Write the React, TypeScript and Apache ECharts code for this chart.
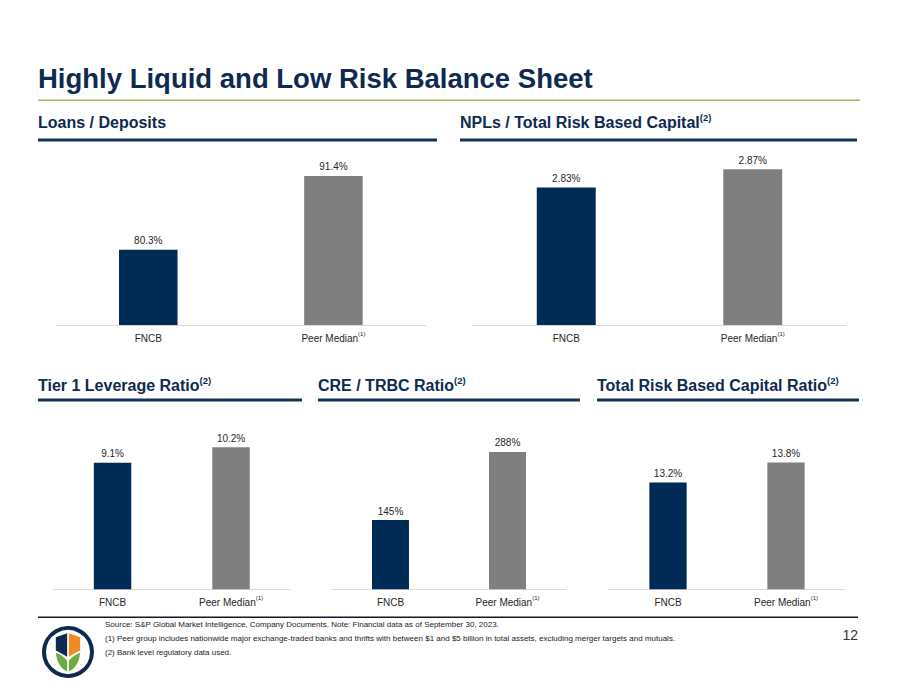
import React, { useEffect, useRef } from 'react';
import * as echarts from 'echarts';

// ---------- data ----------
const categories = ['FNCB', 'Peer Median'];
const loansDeposits = [80.3, 91.4];
const nplsToTrbc = [2.83, 2.87];
const tier1Leverage = [9.1, 10.2];
const creToTrbc = [145, 288];
const totalRbcRatio = [13.2, 13.8];

const pageTitle = 'Highly Liquid and Low Risk Balance Sheet';
const panelTitles = [
  'Loans / Deposits',
  'NPLs / Total Risk Based Capital',
  'Tier 1 Leverage Ratio',
  'CRE / TRBC Ratio',
  'Total Risk Based Capital Ratio',
];
const panelNotes = ['', '(2)', '(2)', '(2)', '(2)'];
const peerNote = '(1)';
const footnotes = [
  'Source: S&P Global Market Intelligence, Company Documents. Note: Financial data as of September 30, 2023.',
  '(1) Peer group includes nationwide major exchange-traded banks and thrifts with between $1 and $5 billion in total assets, excluding merger targets and mutuals.',
  '(2) Bank level regulatory data used.',
];
const pageNumber = '12';

// ---------- style ----------
const NAVY = '#002B54';
const GRAY = '#7F7F7F';
const TITLE = '#0E2A50';
const GREEN = '#9BBB59';
const FONT = "'Liberation Sans', Arial, sans-serif";

// logo shapes (0..100 local box)
let registered = false;
function registerLogo() {
  if (registered) return;
  registered = true;
  echarts.graphic.registerShape('shieldNavy', echarts.graphic.extendPath('M8,12 L47,2 L47,62 Q27,53 8,46 Z', {}) as any);
  echarts.graphic.registerShape('shieldOrange', echarts.graphic.extendPath('M53,2 L92,12 L92,46 Q73,53 53,62 Z', {}) as any);
  echarts.graphic.registerShape('leafLeft', echarts.graphic.extendPath('M8,52 Q30,58 47,72 L47,100 Q12,88 8,52 Z', {}) as any);
  echarts.graphic.registerShape('leafRight', echarts.graphic.extendPath('M92,52 Q70,58 53,72 L53,100 Q88,88 92,52 Z', {}) as any);
}

type Panel = {
  values: number[];
  decimals: number;
  min: number;
  max: number;
  grid: { left: number; top: number; width: number; height: number };
};

const panels: Panel[] = [
  { values: loansDeposits, decimals: 1, min: 69, max: 95, grid: { left: 55.7, top: 152, width: 370.3, height: 173 } },
  { values: nplsToTrbc, decimals: 2, min: 2.53, max: 2.9, grid: { left: 473, top: 155.5, width: 373, height: 169.5 } },
  { values: tier1Leverage, decimals: 1, min: 0, max: 12, grid: { left: 53.3, top: 422.3, width: 237, height: 167 } },
  { values: creToTrbc, decimals: 0, min: 0, max: 350, grid: { left: 332, top: 422.3, width: 234, height: 167 } },
  { values: totalRbcRatio, decimals: 1, min: 10, max: 15, grid: { left: 609, top: 422.3, width: 236, height: 167 } },
];

const headers = [
  { x: 38, y: 122, x2: 437, ly: 140 },
  { x: 460, y: 122, x2: 857, ly: 140 },
  { x: 38, y: 385, x2: 302, ly: 400 },
  { x: 318, y: 385, x2: 580, ly: 400 },
  { x: 597, y: 385, x2: 859, ly: 400 },
];

export default function App() {
  const ref = useRef<HTMLDivElement>(null);
  useEffect(() => {
    if (!ref.current) return;
    registerLogo();
    const chart = echarts.init(ref.current, undefined, { renderer: 'svg' });

    const graphic: any[] = [];
    graphic.push({
      type: 'text', x: 38, y: 78,
      style: { text: pageTitle, fill: TITLE, fontSize: 27.5, fontWeight: 'bold', fontFamily: FONT, verticalAlign: 'middle' },
    });
    graphic.push({ type: 'rect', shape: { x: 38, y: 99.5, width: 822, height: 1.5 }, style: { fill: GREEN } });

    headers.forEach((h, i) => {
      graphic.push({
        type: 'text', x: h.x, y: h.y,
        style: {
          text: panelTitles[i] + (panelNotes[i] ? '{s|' + panelNotes[i] + '}' : ''),
          fill: TITLE, fontSize: 16, fontWeight: 'bold', fontFamily: FONT, verticalAlign: 'middle', lineHeight: 19,
          rich: { s: { fontSize: 9.5, fontWeight: 'bold', fontFamily: FONT, fill: TITLE, verticalAlign: 'top', lineHeight: 10 } },
        },
      });
      graphic.push({ type: 'rect', shape: { x: h.x, y: h.ly - 1.5, width: h.x2 - h.x, height: 3 }, style: { fill: '#13315A' } });
    });

    // footer
    graphic.push({ type: 'rect', shape: { x: 38, y: 616.5, width: 820, height: 1.5 }, style: { fill: '#111827' } });
    footnotes.forEach((t, i) => {
      graphic.push({
        type: 'text', x: 105, y: 624.5 + i * 14,
        style: { text: t, fill: '#1A1A1A', fontSize: 8, fontFamily: "'Liberation Sans Narrow', " + FONT, verticalAlign: 'middle' },
      });
    });
    graphic.push({
      type: 'text', x: 858, y: 635,
      style: { text: pageNumber, fill: '#333333', fontSize: 14, fontFamily: FONT, align: 'right', verticalAlign: 'middle' },
    });

    // logo
    graphic.push({ type: 'circle', shape: { cx: 68, cy: 652, r: 24 }, style: { fill: '#FFFFFF', stroke: '#0E2A50', lineWidth: 4 } });
    const lx = 53.5, ly = 632.5, sx = 0.29, sy = 0.39;
    graphic.push({ type: 'shieldNavy', x: lx, y: ly, scaleX: sx, scaleY: sy, style: { fill: '#0E2A50' } });
    graphic.push({ type: 'shieldOrange', x: lx, y: ly, scaleX: sx, scaleY: sy, style: { fill: '#F08A24' } });
    graphic.push({ type: 'leafLeft', x: lx, y: ly, scaleX: sx, scaleY: sy, style: { fill: '#6BAA3C' } });
    graphic.push({ type: 'leafRight', x: lx, y: ly, scaleX: sx, scaleY: sy, style: { fill: '#6BAA3C' } });

    const option: any = {
      animation: false,
      backgroundColor: '#FFFFFF',
      textStyle: { fontFamily: FONT },
      grid: panels.map((p) => ({ ...p.grid, containLabel: false })),
      xAxis: panels.map((_, i) => ({
        type: 'category',
        gridIndex: i,
        data: categories,
        axisTick: { show: false },
        axisLine: { show: true, lineStyle: { color: '#D9D9D9', width: 1 } },
        axisLabel: {
          color: '#262626', fontSize: 10, lineHeight: 15, margin: 5.5, fontFamily: FONT,
          formatter: (v: string) => (v === categories[1] ? v + '{s|' + peerNote + '}' : v),
          rich: { s: { fontSize: 6, lineHeight: 6, verticalAlign: 'top', color: '#262626', fontFamily: FONT } },
        },
      })),
      yAxis: panels.map((p, i) => ({
        type: 'value', gridIndex: i, min: p.min, max: p.max, show: false, splitLine: { show: false },
      })),
      series: panels.map((p, i) => ({
        type: 'bar',
        xAxisIndex: i,
        yAxisIndex: i,
        barWidth: '31.6%',
        data: p.values.map((v, j) => ({ value: v, itemStyle: { color: j === 0 ? NAVY : GRAY } })),
        label: {
          show: true, position: 'top', distance: 4, color: '#262626', fontSize: 10, fontFamily: FONT,
          formatter: (d: any) => Number(d.value).toFixed(p.decimals) + '%',
        },
      })),
      graphic,
    };
    chart.setOption(option);
    return () => chart.dispose();
  }, []);
  return <div ref={ref} style={{ position: 'absolute', left: 0, top: 0, width: 900, height: 695, background: '#fff' }} />;
}
